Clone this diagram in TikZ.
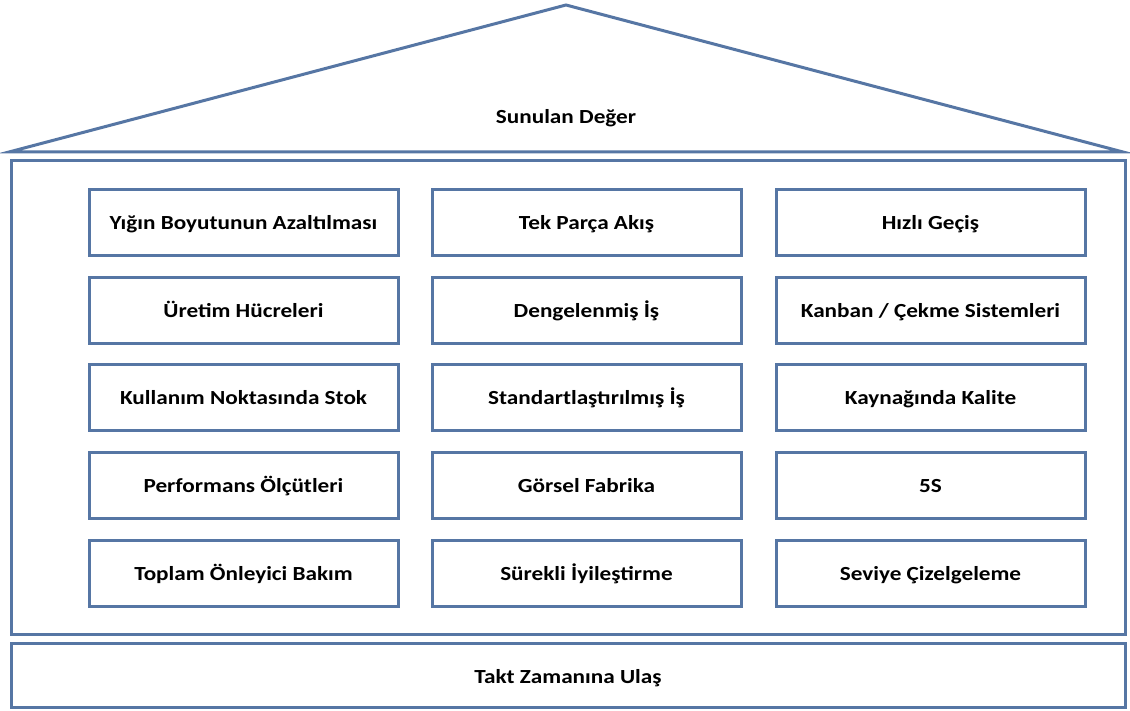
\documentclass[tikz,border=0pt]{standalone}
\usepackage{fontspec}
\setmainfont{Carlito}[FakeStretch=1.16]
\definecolor{edgeblue}{RGB}{86,118,164}
\tikzset{
  frame/.style={draw=edgeblue, line width=3pt},
  txt/.style={font=\fontsize{20}{22}\selectfont\bfseries, text=black, text height=14pt, text depth=0pt},
  pillar/.style={frame, txt, rectangle, minimum width=309pt, minimum height=66pt, inner sep=0pt},
  label/.style={txt, inner sep=0pt}
}
\begin{document}
\begin{tikzpicture}[x=1pt,y=-1pt]
\useasboundingbox (0,0) rectangle (1130,711);
\fill[white] (0,0) rectangle (1130,711);
% roof
\coordinate (roofL) at (9,152);
\coordinate (apex) at (566,5);
\coordinate (roofR) at (1123,152);
\draw[frame, line join=miter] (roofL) -- (apex) -- (roofR) -- cycle;
\node[label] (value) at (566,117) {Sunulan Değer};
% body
\node[frame, rectangle, minimum width=1114pt, minimum height=473pt, inner sep=0pt] (body) at (568,397.5) {};
% base
\node[frame, txt, text height=18pt, text depth=2pt, rectangle, minimum width=1114pt, minimum height=64pt, inner sep=0pt] (base) at (568,675) {Takt Zamanına Ulaş};
% pillars
\node[pillar] (p11) at (243.5,223) {Yığın Boyutunun Azaltılması};
\node[pillar] (p12) at (586.5,223) {Tek Parça Akış};
\node[pillar] (p13) at (930.5,223) {Hızlı Geçiş};
\node[pillar] (p21) at (243.5,310.5) {Üretim Hücreleri};
\node[pillar] (p22) at (586.5,310.5) {Dengelenmiş İş};
\node[pillar] (p23) at (930.5,310.5) {Kanban / Çekme Sistemleri};
\node[pillar] (p31) at (243.5,397.5) {Kullanım Noktasında Stok};
\node[pillar] (p32) at (586.5,397.5) {Standartlaştırılmış İş};
\node[pillar] (p33) at (930.5,397.5) {Kaynağında Kalite};
\node[pillar] (p41) at (243.5,485) {Performans Ölçütleri};
\node[pillar] (p42) at (586.5,485) {Görsel Fabrika};
\node[pillar] (p43) at (930.5,485) {5S};
\node[pillar] (p51) at (243.5,573) {Toplam Önleyici Bakım};
\node[pillar] (p52) at (586.5,573) {Sürekli İyileştirme};
\node[pillar] (p53) at (930.5,573) {Seviye Çizelgeleme};
\end{tikzpicture}
\end{document}
